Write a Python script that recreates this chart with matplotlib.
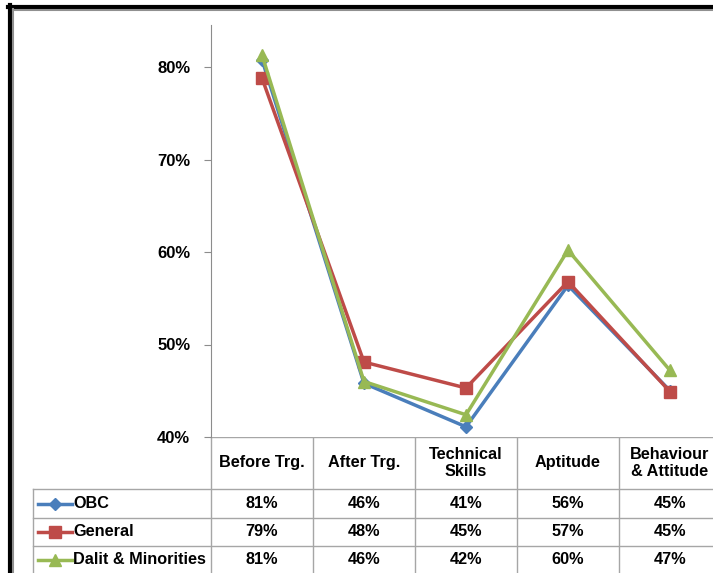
import matplotlib
matplotlib.use("Agg")
import matplotlib.pyplot as plt

# data
categories = ["Before Trg.", "After Trg.", "Technical\nSkills", "Aptitude", "Behaviour\n& Attitude"]
series_names = ["OBC", "General", "Dalit & Minorities"]
obc = [80.8, 45.8, 41.1, 56.4, 45.0]
general = [78.8, 48.1, 45.3, 56.8, 44.9]
dalit = [81.3, 46.0, 42.4, 60.2, 47.2]
yticks = [40, 50, 60, 70, 80]

colors = ["#4A7EBB", "#BE4B48", "#98B954"]
markers = ["D", "s", "^"]
msizes = [6, 8, 9]

plt.rcParams["font.family"] = ["Liberation Sans", "DejaVu Sans"]
plt.rcParams["font.weight"] = "bold"

W, H = 713, 573
fig = plt.figure(figsize=(W / 100, H / 100), dpi=100)

# pixel layout
ax_left, ax_bottom_px = 211, 437
col_w = 102
px_per_pct = 9.25
ymax = 84.5
ax_top_px = ax_bottom_px - (ymax - 40) * px_per_pct

ax = fig.add_axes([ax_left / W, (H - ax_bottom_px) / H, 5 * col_w / W,
                   (ax_bottom_px - ax_top_px) / H])
xs = list(range(len(categories)))
for vals, c, m, ms in zip([obc, general, dalit], colors, markers, msizes):
    ax.plot(xs, vals, color=c, lw=2.5, marker=m, ms=ms, mec=c, mfc=c)
ax.set_xlim(-0.5, len(categories) - 0.5)
ax.set_ylim(40, ymax)
ax.set_yticks(yticks)
ax.set_yticklabels([f"{t}%" for t in yticks], fontsize=12, fontweight="bold")
ax.set_xticks([])
for s in ["top", "right", "bottom"]:
    ax.spines[s].set_visible(False)
ax.spines["left"].set_color("#8c8c8c")
ax.tick_params(axis="y", direction="out", length=5, color="#8c8c8c", pad=10)

# overlay in pixel coordinates for the data table and frame
ov = fig.add_axes([0, 0, 1, 1], zorder=-1)
ov.set_xlim(0, W)
ov.set_ylim(H, 0)
ov.axis("off")

grid = "#a6a6a6"
row_y = [437, 489, 518, 546, 575]
col_x = [ax_left + i * col_w for i in range(len(categories) + 1)]
legend_left = 33
fs = 11.7

ov.plot([ax_left, W], [437, 437], color=grid, lw=1)
for y in row_y[1:-1]:
    ov.plot([legend_left, W], [y, y], color=grid, lw=1)
ov.plot([legend_left, legend_left], [row_y[1], H], color=grid, lw=1)
for x in col_x:
    ov.plot([x, x], [437, H], color=grid, lw=1)

for i, cat in enumerate(categories):
    cx = ax_left + (i + 0.5) * col_w
    ov.text(cx, (row_y[0] + row_y[1]) / 2, cat, ha="center", va="center",
            fontsize=fs, fontweight="bold", linespacing=1.2)

for r, (name, vals) in enumerate(zip(series_names, [obc, general, dalit])):
    cy = (row_y[r + 1] + row_y[r + 2]) / 2 if r < 2 else (row_y[r + 1] + 573) / 2
    ov.plot([38, 72], [cy, cy], color=colors[r], lw=2.5)
    ov.plot([55], [cy], marker=markers[r], ms=msizes[r], color=colors[r])
    ov.text(73, cy, name, ha="left", va="center", fontsize=fs, fontweight="bold")
    for i, v in enumerate(vals):
        cx = ax_left + (i + 0.5) * col_w
        ov.text(cx, cy, f"{round(v)}%", ha="center", va="center",
                fontsize=fs, fontweight="bold")

# outer frame
ov.plot([8, W], [6.5, 6.5], color="black", lw=3)
ov.plot([9.5, 9.5], [5, H], color="black", lw=3)
ov.plot([13, W], [9.5, 9.5], color="#909090", lw=1.5)
ov.plot([12.5, 12.5], [9, H], color="#909090", lw=1.5)

fig.savefig("out.png", dpi=100)
